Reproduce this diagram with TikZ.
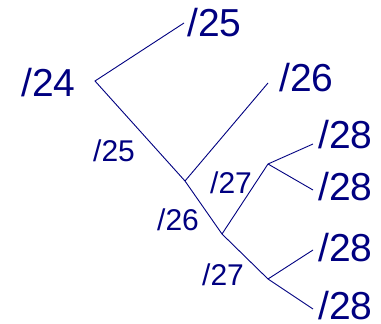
\documentclass[tikz,border=0pt]{standalone}
\usepackage{fontspec}
\setmainfont{Liberation Sans}
\usepackage{tikz}
\usetikzlibrary{positioning}
\definecolor{treeblue}{RGB}{0,0,128}

\begin{document}
\begin{tikzpicture}[
  x=1pt, y=-1pt,
  edge/.style={draw=treeblue, line width=0.9pt},
  biglab/.style={text=treeblue, inner sep=0pt, anchor=base west,
                 font=\fontsize{39}{42}\selectfont},
  smalllab/.style={text=treeblue, inner sep=0pt, anchor=base west,
                   font=\fontsize{30}{33}\selectfont}
]
\useasboundingbox (0,0) rectangle (381,324);

% junctions and ends of the tree
\coordinate (r24) at (95,81);
\coordinate (e25) at (184,23);
\coordinate (j25) at (185,181);
\coordinate (e26) at (268,83);
\coordinate (j26) at (222,234);
\coordinate (j27a) at (268,164);
\coordinate (e28a) at (313,144);
\coordinate (e28b) at (313,190);
\coordinate (j27b) at (268,279);
\coordinate (e28c) at (313,250);
\coordinate (e28d) at (313,309);

% big labels
\node[biglab] (L24) at (21,96) {/24};
\node[biglab] (L25) at (187,37) {/25};
\node[biglab] (L26) at (279,91) {/26};
\node[biglab] (L28a) at (318,148) {/28};
\node[biglab] (L28b) at (318,200) {/28};
\node[biglab] (L28c) at (318,261.5) {/28};
\node[biglab] (L28d) at (318,319) {/28};

% small labels on the branches
\node[smalllab] (S25) at (93,161.5) {/25};
\node[smalllab] (S27a) at (210,193) {/27};
\node[smalllab] (S26) at (157,230) {/26};
\node[smalllab] (S27b) at (202,285) {/27};

% branches
\draw[edge] (e25) -- (r24) -- (j25) -- (j26) -- (j27b) -- (e28d);
\draw[edge] (j25) -- (e26);
\draw[edge] (j26) -- (j27a) -- (e28a);
\draw[edge] (j27a) -- (e28b);
\draw[edge] (j27b) -- (e28c);

\end{tikzpicture}
\end{document}
